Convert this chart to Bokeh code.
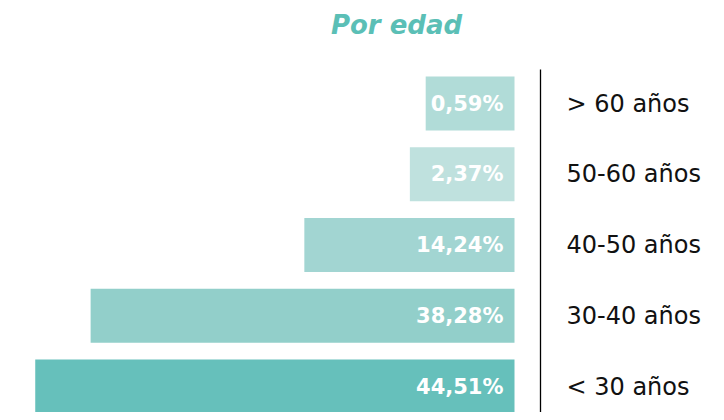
from bokeh.plotting import figure
from bokeh.models import ColumnDataSource, Range1d
from bokeh.core.properties import value
from bokeh.embed import file_html
from bokeh.resources import INLINE

# Data (top to bottom)
categories = ["> 60 años", "50-60 años", "40-50 años", "30-40 años", "< 30 años"]
percentages = [0.59, 2.37, 14.24, 38.28, 44.51]
colors = ["#b1dcd8", "#bfe1de", "#a2d5d2", "#92cfca", "#66c0bb"]
title_text = "Por edad"

LABEL_ROOM = 9.4  # minimum bar length so the value label fits (style)
PX_PER_UNIT = 8.89
W, H = 716, 412
ZERO_PX = 514
ROW_PX = 70.75
ROW0_PX = 103

x_start = -ZERO_PX / PX_PER_UNIT
x_end = (W - ZERO_PX) / PX_PER_UNIT
y_top = -ROW0_PX / ROW_PX
y_bottom = (H - ROW0_PX) / ROW_PX


def px_x(px):
    return (px - ZERO_PX) / PX_PER_UNIT


def px_y(px):
    return (px - ROW0_PX) / ROW_PX


rows = list(range(len(categories)))
src = ColumnDataSource(dict(
    y=rows,
    left=[-(v + LABEL_ROOM) for v in percentages],
    right=[0] * len(rows),
    color=colors,
    cat=categories,
    lbl=[f"{v:.2f}".replace(".", ",") + "%" for v in percentages],
))

p = figure(width=W, height=H, output_backend="svg", toolbar_location=None,
           x_range=Range1d(x_start, x_end), y_range=Range1d(y_bottom, y_top),
           min_border=0, outline_line_color=None)
p.axis.visible = False
p.grid.visible = False
p.background_fill_color = "white"
p.border_fill_color = "white"

p.hbar(y="y", left="left", right="right", height=0.763, color="color",
       line_color=None, source=src)

p.text(x=px_x(503), y="y", text="lbl", source=src, text_color="white",
       text_font=value("DejaVu Sans"), text_font_style="bold",
       text_font_size="21px", text_align="right", text_baseline="middle")

p.text(x=px_x(566), y="y", text="cat", source=src, text_color="#111111",
       text_font=value("DejaVu Sans"), text_font_size="24px",
       text_align="left", text_baseline="middle")

p.segment(x0=px_x(540), y0=px_y(69), x1=px_x(540), y1=y_bottom + 1,
          line_color="black", line_width=1.3)

p.text(x=[px_x(396)], y=[px_y(24)], text=[title_text], text_color="#5bbfb6",
       text_font=value("DejaVu Sans"), text_font_style="bold italic",
       text_font_size="26px", text_align="center", text_baseline="middle")

open("out.html", "w").write(file_html(p, INLINE))
